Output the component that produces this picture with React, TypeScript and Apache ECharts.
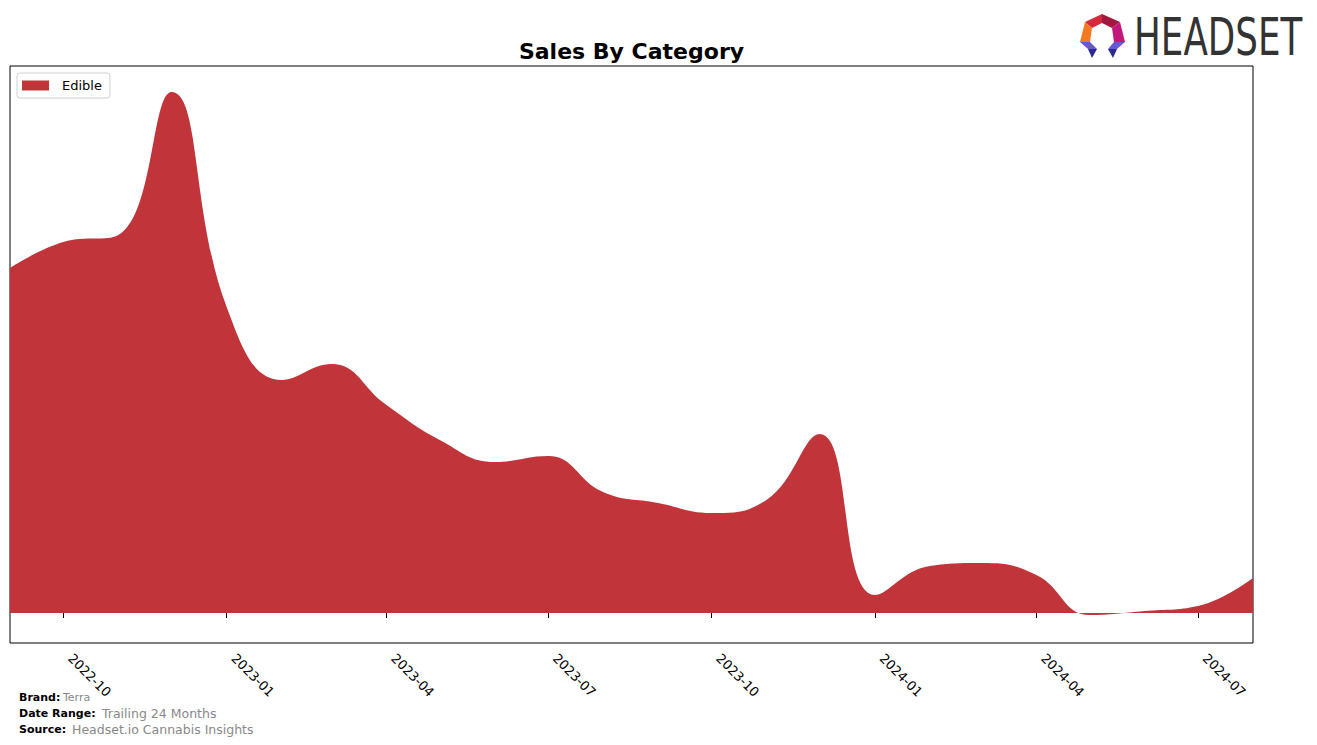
import React, { useEffect, useRef } from "react";
import * as echarts from "echarts";

const months = [
  "2022-09-01", "2022-10-01", "2022-11-01", "2022-12-01",
  "2023-01-01", "2023-02-01", "2023-03-01", "2023-04-01",
  "2023-05-01", "2023-06-01", "2023-07-01", "2023-08-01",
  "2023-09-01", "2023-10-01", "2023-11-01", "2023-12-01",
  "2024-01-01", "2024-02-01", "2024-03-01", "2024-04-01",
  "2024-05-01", "2024-06-01", "2024-07-01", "2024-08-01",
];
const edibleSales = [
  345, 371, 378, 521, 306, 233, 249, 208,
  173, 151, 157, 121, 110, 100, 113, 179,
  18, 47, 50, 38, -2, 2, 7, 35,
];
const tickLabels = [
  "2022-10", "2023-01", "2023-04", "2023-07", "2023-10", "2024-01", "2024-04", "2024-07",
];

const footer = [
  { label: "Brand:", value: "Terra" },
  { label: "Date Range:", value: "Trailing 24 Months" },
  { label: "Source:", value: "Headset.io Cannabis Insights" },
];

const RED = "#c1353a";

const toTime = (s: string) => new Date(s + "T00:00:00Z").getTime();

export default function App() {
  const ref = useRef<HTMLDivElement>(null);
  useEffect(() => {
    document.body.style.margin = "0";
    const chart = echarts.init(ref.current!, null, { renderer: "svg" });
    const tickTimes = tickLabels.map((t) => toTime(t + "-01"));
    const data = months.map((m, i) => [toTime(m), edibleSales[i]]);
    const font = "DejaVu Sans";
    chart.setOption({
      animation: false,
      textStyle: { fontFamily: font },
      grid: {
        left: 10, right: 64, top: 66, bottom: 102,
        show: true, borderColor: "#000", borderWidth: 1, backgroundColor: "transparent",
      },
      legend: {
        left: 17, top: 73,
        padding: [6, 8, 6, 5],
        backgroundColor: "#fff",
        borderColor: "#d0d0d0", borderWidth: 1, borderRadius: 3,
        icon: "rect", itemWidth: 27, itemHeight: 10, itemGap: 10,
        textStyle: { fontFamily: font, fontSize: 13, color: "#000", padding: [0, 0, 0, 8] },
        data: ["Edible"],
      },
      xAxis: {
        type: "value",
        min: toTime(months[0]),
        max: toTime(months[months.length - 1]),
        axisLine: { show: false },
        splitLine: { show: false },
        axisTick: {
          show: true, length: 5, customValues: tickTimes,
          lineStyle: { color: "#000", width: 1 },
        },
        axisLabel: {
          customValues: tickTimes,
          rotate: -45,
          margin: 6,
          padding: [0, 0, 0, 10],
          fontFamily: font,
          fontSize: 13,
          color: "#000",
          showMinLabel: true,
          showMaxLabel: true,
          formatter: (v: number) => {
            const d = new Date(v);
            const m = d.getUTCMonth() + 1;
            return d.getUTCFullYear() + "-" + (m < 10 ? "0" + m : "" + m);
          },
        },
      },
      yAxis: {
        type: "value", min: -30, max: 547, show: false,
        splitLine: { show: false },
      },
      series: [
        {
          name: "Edible",
          type: "line",
          data,
          smooth: 0.45,
          symbol: "none",
          color: RED,
          lineStyle: { width: 0, color: RED },
          areaStyle: { color: RED, opacity: 1 },
        },
      ],
      graphic: [
        {
          type: "text", x: 631.5, y: 51,
          style: {
            text: "Sales By Category", fontFamily: font, fontSize: 22, fontWeight: "bold",
            fill: "#000", textAlign: "center", textVerticalAlign: "middle",
          },
        },
        { type: "polygon", shape: { points: [[1085, 22], [1102, 14], [1102, 23], [1092, 28]] }, style: { fill: "#d42a3c" } },
        { type: "polygon", shape: { points: [[1102, 14], [1120, 22], [1112, 28], [1102, 23]] }, style: { fill: "#a3183f" } },
        { type: "polygon", shape: { points: [[1085, 22], [1092, 28], [1090, 42], [1080, 42]] }, style: { fill: "#f47a22" } },
        { type: "polygon", shape: { points: [[1120, 22], [1125, 42], [1114, 42], [1112, 28]] }, style: { fill: "#c2187c" } },
        { type: "polygon", shape: { points: [[1080, 42], [1090, 42], [1097, 49], [1088, 49]] }, style: { fill: "#6657d6" } },
        { type: "polygon", shape: { points: [[1088, 49], [1097, 49], [1092, 58]] }, style: { fill: "#2d2a8e" } },
        { type: "polygon", shape: { points: [[1114, 42], [1125, 42], [1117, 49], [1108, 49]] }, style: { fill: "#6657d6" } },
        { type: "polygon", shape: { points: [[1108, 49], [1117, 49], [1113, 58]] }, style: { fill: "#2d2a8e" } },
        {
          type: "text", x: 1134, y: 37, scaleX: 0.7,
          style: {
            text: "HEADSET", fontFamily: font, fontSize: 51, fill: "#333",
            textAlign: "left", textVerticalAlign: "middle",
          },
        },
        ...footer.map((f, i) => ({
          type: "text", x: 19, y: 697 + i * 16,
          style: {
            text: f.label, fontFamily: font, fontSize: 11, fontWeight: "bold", fill: "#000",
            textAlign: "left", textVerticalAlign: "middle",
          },
        })),
        {
          type: "text", x: 63, y: 697,
          style: { text: footer[0].value, fontFamily: font, fontSize: 11, fill: "#888", textAlign: "left", textVerticalAlign: "middle" },
        },
        {
          type: "text", x: 102, y: 713,
          style: { text: footer[1].value, fontFamily: font, fontSize: 12.5, fill: "#888", textAlign: "left", textVerticalAlign: "middle" },
        },
        {
          type: "text", x: 72, y: 729,
          style: { text: footer[2].value, fontFamily: font, fontSize: 12.5, fill: "#888", textAlign: "left", textVerticalAlign: "middle" },
        },
      ],
    });
    return () => chart.dispose();
  }, []);
  return <div ref={ref} style={{ width: 1317, height: 745 }} />;
}
